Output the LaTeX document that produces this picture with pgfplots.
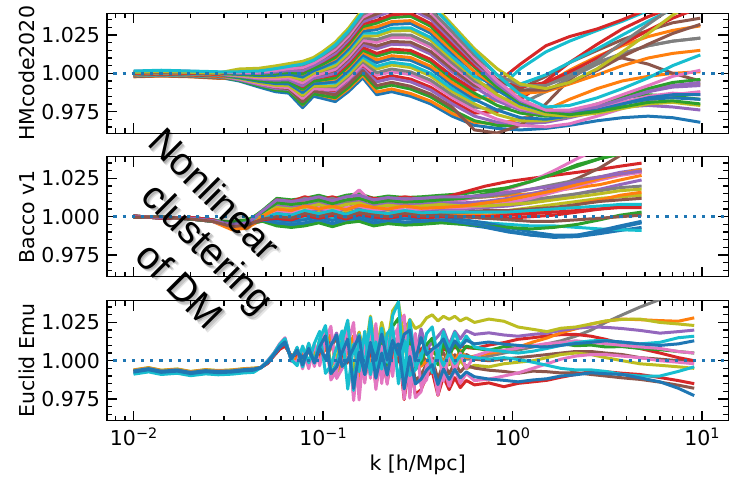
\documentclass[border=0pt]{standalone}
\usepackage{fontspec}
\setmainfont{DejaVu Sans}
\newfontfamily\annfont{Liberation Sans}
\usepackage{pgfplots}
\usepackage{pgfplotstable}
\pgfplotsset{compat=1.18}
\definecolor{c0}{HTML}{1F77B4}
\definecolor{c1}{HTML}{FF7F0E}
\definecolor{c2}{HTML}{2CA02C}
\definecolor{c3}{HTML}{D62728}
\definecolor{c4}{HTML}{9467BD}
\definecolor{c5}{HTML}{8C564B}
\definecolor{c6}{HTML}{E377C2}
\definecolor{c7}{HTML}{7F7F7F}
\definecolor{c8}{HTML}{BCBD22}
\definecolor{c9}{HTML}{17BECF}
\pgfplotscreateplotcyclelist{tab}{%
c0,line width=3pt\\c1,line width=3pt\\c2,line width=3pt\\c3,line width=3pt\\c4,line width=3pt\\%
c5,line width=3pt\\c6,line width=3pt\\c7,line width=3pt\\c8,line width=3pt\\c9,line width=3pt\\}
\newcommand\tp[1]{10\raisebox{7.3pt}{\fontsize{14.4}{15}\selectfont#1}}

% ---------------- HMcode2020 (one row per curve) ----------------
\pgfplotstableread{
name 0.010 0.014 0.020 0.028 0.036 0.046 0.056 0.066 0.078 0.089 0.100 0.116 0.136 0.162 0.192 0.230 0.290 0.370 0.480 0.630 0.830 1.100 1.500 2.000 2.800 3.800 5.200 7.000 9.800
l1 0.9985 0.9990 0.9985 0.9975 0.9950 0.9910 0.9880 0.9870 0.9775 0.9850 0.9835 0.9815 0.9880 0.9970 0.9860 0.9880 0.9850 0.9800 0.9720 0.966 0.964 0.963 0.964 0.966 0.969 0.971 0.972 0.971 0.968
l2 0.9977 0.9982 0.9977 0.9967 0.9968 0.9928 0.9898 0.9888 0.9793 0.9868 0.9853 0.9833 0.9898 0.9988 0.9878 0.9898 0.9868 0.9818 0.9738 0.968 0.967 0.970 0.976 0.983 0.990 0.995 0.998 1.000 1.001
l3 0.9987 0.9992 0.9987 0.9977 0.9954 0.9917 0.9891 0.9882 0.9795 0.9866 0.9855 0.9841 0.9908 1.0000 0.9902 0.9923 0.9897 0.9846 0.9761 0.969 0.966 0.966 0.969 0.974 0.980 0.984 0.986 0.985 0.983
l4 0.9981 0.9986 0.9981 0.9972 0.9976 0.9943 0.9919 0.9913 0.9833 0.9901 0.9894 0.9885 0.9953 1.0048 0.9962 0.9985 0.9962 0.9909 0.9819 0.974 0.975 0.983 0.995 1.007 1.019 1.029 1.037 1.043 1.047
l5 0.9989 0.9994 0.9989 0.9980 0.9958 0.9925 0.9901 0.9895 0.9815 0.9883 0.9876 0.9867 0.9935 1.0030 0.9944 0.9967 0.9944 0.9891 0.9801 0.972 0.968 0.967 0.968 0.971 0.975 0.978 0.979 0.978 0.976
l6 0.9979 0.9984 0.9979 0.9969 0.9972 0.9935 0.9909 0.9900 0.9813 0.9884 0.9873 0.9859 0.9926 1.0018 0.9920 0.9941 0.9915 0.9864 0.9779 0.963 0.961 0.966 0.980 0.996 1.008 1.010 1.006 1.000 0.995
l7 0.9991 0.9996 0.9991 0.9982 0.9963 0.9932 0.9912 0.9907 0.9835 0.9899 0.9896 0.9893 0.9963 1.0060 0.9986 1.0010 0.9991 0.9937 0.9842 0.976 0.970 0.966 0.965 0.967 0.972 0.977 0.982 0.986 0.988
l8 0.9983 0.9988 0.9983 0.9974 0.9981 0.9950 0.9930 0.9925 0.9853 0.9917 0.9914 0.9911 0.9981 1.0078 1.0004 1.0028 1.0009 0.9955 0.9860 0.978 0.976 0.980 0.988 0.997 1.006 1.013 1.018 1.021 1.023
l9 0.9993 0.9998 0.9993 0.9985 0.9967 0.9939 0.9922 0.9919 0.9855 0.9916 0.9916 0.9919 0.9991 1.0090 1.0028 1.0054 1.0038 0.9982 0.9882 0.980 0.973 0.969 0.969 0.972 0.978 0.984 0.989 0.992 0.993
l10 0.9985 0.9990 0.9985 0.9977 0.9985 0.9957 0.9940 0.9937 0.9873 0.9934 0.9934 0.9937 1.0009 1.0108 1.0046 1.0072 1.0056 1.0000 0.9900 0.982 0.989 1.003 1.014 1.021 1.028 1.034 1.041 1.047 1.052
l11 0.9996 1.0001 0.9996 0.9987 0.9971 0.9947 0.9933 0.9931 0.9875 0.9932 0.9937 0.9945 1.0018 1.0121 1.0070 1.0097 1.0085 1.0028 0.9923 0.983 0.976 0.971 0.970 0.972 0.976 0.980 0.983 0.984 0.983
l12 0.9988 0.9993 0.9988 0.9979 0.9989 0.9965 0.9951 0.9949 0.9893 0.9950 0.9955 0.9963 1.0036 1.0139 1.0088 1.0115 1.0103 1.0046 0.9941 0.985 0.982 0.985 0.993 1.002 1.011 1.018 1.024 1.028 1.031
l13 0.9998 1.0003 0.9998 0.9990 0.9975 0.9954 0.9943 0.9944 0.9895 0.9949 0.9957 0.9970 1.0046 1.0151 1.0112 1.0140 1.0131 1.0073 0.9964 0.987 0.979 0.974 0.972 0.974 0.979 0.985 0.990 0.994 0.996
l14 0.9990 0.9995 0.9990 0.9982 0.9993 0.9972 0.9961 0.9962 0.9913 0.9967 0.9975 0.9988 1.0064 1.0169 1.0130 1.0158 1.0149 1.0091 0.9982 0.989 0.994 1.006 1.018 1.024 1.029 1.035 1.042 1.050 1.058
l15 1.0000 1.0005 1.0000 0.9993 0.9980 0.9963 0.9955 0.9958 0.9918 0.9968 0.9980 1.0000 1.0078 1.0185 1.0160 1.0190 1.0185 1.0125 1.0010 0.991 0.982 0.976 0.973 0.974 0.978 0.983 0.988 0.991 0.992
l16 0.9992 0.9997 0.9992 0.9985 0.9998 0.9981 0.9973 0.9976 0.9936 0.9986 0.9998 1.0018 1.0096 1.0203 1.0178 1.0208 1.0203 1.0143 1.0028 0.992 0.988 0.990 0.998 1.007 1.015 1.022 1.028 1.033 1.036
l17 1.0002 1.0007 1.0002 0.9995 0.9984 0.9970 0.9966 0.9970 0.9937 0.9984 1.0000 1.0026 1.0105 1.0215 1.0202 1.0233 1.0232 1.0171 1.0051 0.994 0.984 0.977 0.974 0.974 0.977 0.981 0.985 0.987 0.986
l18 0.9994 0.9999 0.9994 0.9987 1.0002 0.9988 0.9984 0.9988 0.9955 1.0002 1.0018 1.0044 1.0123 1.0233 1.0220 1.0251 1.0250 1.0189 1.0069 0.995 0.989 0.988 0.993 1.000 1.007 1.013 1.018 1.021 1.023
l19 1.0004 1.0009 1.0004 0.9997 0.9988 0.9977 0.9976 0.9982 0.9957 1.0000 1.0021 1.0052 1.0133 1.0245 1.0244 1.0277 1.0279 1.0216 1.0091 0.997 0.986 0.978 0.973 0.972 0.974 0.977 0.980 0.981 0.979
l20 0.9996 1.0001 0.9996 0.9989 1.0006 0.9995 0.9994 1.0000 0.9975 1.0018 1.0039 1.0070 1.0151 1.0263 1.0262 1.0295 1.0297 1.0234 1.0109 0.998 0.992 0.993 0.999 1.007 1.016 1.025 1.034 1.042 1.049
l21 1.0006 1.0011 1.0006 1.0000 0.9993 0.9985 0.9987 0.9994 0.9977 1.0017 1.0041 1.0078 1.0160 1.0275 1.0286 1.0320 1.0326 1.0262 1.0132 1.001 0.989 0.980 0.975 0.974 0.976 0.980 0.984 0.986 0.986
l22 0.9998 1.0003 0.9998 0.9992 1.0011 1.0003 1.0005 1.0012 0.9995 1.0035 1.0059 1.0096 1.0178 1.0293 1.0304 1.0338 1.0344 1.0280 1.0150 1.001 0.991 0.987 0.988 0.993 0.999 1.005 1.010 1.013 1.015
l23 1.0008 1.0013 1.0008 1.0002 0.9997 0.9992 0.9997 1.0007 0.9997 1.0033 1.0061 1.0104 1.0188 1.0305 1.0328 1.0364 1.0373 1.0307 1.0172 1.004 0.991 0.981 0.975 0.973 0.975 0.978 0.981 0.982 0.980
l24 1.0000 1.0005 1.0000 0.9994 1.0015 1.0010 1.0015 1.0025 1.0015 1.0051 1.0079 1.0122 1.0206 1.0323 1.0346 1.0382 1.0391 1.0325 1.0190 1.005 0.995 0.991 0.994 1.001 1.010 1.019 1.028 1.036 1.043
l25 1.0011 1.0016 1.0011 1.0005 1.0001 0.9999 1.0008 1.0019 1.0017 1.0050 1.0082 1.0130 1.0216 1.0336 1.0370 1.0407 1.0420 1.0353 1.0213 1.007 0.993 0.982 0.976 0.975 0.978 0.983 0.988 0.992 0.994
l26 1.0003 1.0008 1.0003 0.9997 1.0019 1.0017 1.0026 1.0037 1.0035 1.0068 1.0100 1.0148 1.0234 1.0354 1.0388 1.0425 1.0438 1.0371 1.0231 1.008 0.996 0.989 0.989 0.994 1.002 1.011 1.019 1.026 1.032
l27 1.0013 1.0018 1.0013 1.0007 1.0005 1.0007 1.0018 1.0031 1.0037 1.0066 1.0102 1.0155 1.0243 1.0366 1.0412 1.0450 1.0466 1.0398 1.0254 1.010 0.995 0.983 0.976 0.976 0.980 0.986 0.992 0.998 1.002
l28 1.0005 1.0010 1.0005 0.9999 1.0023 1.0025 1.0036 1.0049 1.0055 1.0084 1.0120 1.0173 1.0261 1.0384 1.0430 1.0468 1.0484 1.0416 1.0272 1.012 0.999 0.992 0.992 0.998 1.008 1.020 1.032 1.043 1.052
l29 1.0007 1.0012 1.0007 1.0002 1.0028 1.0033 1.0048 1.0063 1.0078 1.0103 1.0143 1.0203 1.0293 1.0418 1.0478 1.0518 1.0538 1.0468 1.0318 1.016 1.003 0.993 0.990 0.994 1.003 1.014 1.026 1.038 1.049
l30 1.0015 1.0020 1.0015 1.0010 1.0010 1.0015 1.0030 1.0045 1.0060 1.0085 1.0125 1.0185 1.0275 1.0400 1.0460 1.0500 1.0520 1.0450 1.0300 1.014 0.999 0.986 0.978 0.979 0.984 0.990 0.997 1.005 1.012
}\rawA
\pgfplotstabletranspose[colnames from=name,input colnames to=k]{\tabA}{\rawA}

% ---------------- Bacco v1 ----------------
\pgfplotstableread{
name 0.010 0.014 0.020 0.026 0.033 0.040 0.048 0.057 0.068 0.080 0.095 0.112 0.132 0.155 0.185 0.220 0.270 0.330 0.420 0.550 0.720 0.950 1.250 1.650 2.200 2.900 3.700 4.800
l1 1.0000 0.9995 0.9990 0.9975 0.9935 0.9945 0.9974 0.9950 0.9940 0.9950 0.9970 0.9945 0.9970 0.9980 0.9950 0.9965 0.9955 0.9960 0.9970 0.9950 0.9930 0.9900 0.9880 0.9865 0.9870 0.9890 0.9910 0.9930
l2 0.9995 1.0000 0.9985 0.9970 0.9915 0.9925 1.0020 1.0090 1.0080 1.0110 1.0090 1.0110 1.0085 1.0115 1.0100 1.0090 1.0110 1.0095 1.0100 1.012 1.013 1.014 1.015 1.017 1.019 1.021 1.024 1.027
l3 1.0005 0.9990 0.9995 0.9980 0.9960 0.9970 1.0042 1.0120 1.0110 1.0120 1.0140 1.0115 1.0140 1.0150 1.0120 1.0135 1.0125 1.0130 1.0140 1.015 1.017 1.019 1.023 1.028 1.034 1.038 1.041 1.043
l4 1.0000 0.9995 0.9990 0.9975 0.9950 0.9960 1.0028 1.0110 1.0100 1.0130 1.0110 1.0130 1.0105 1.0135 1.0120 1.0110 1.0130 1.0115 1.0120 1.016 1.020 1.023 1.025 1.027 1.029 1.031 1.033 1.035
l5 0.9995 1.0000 0.9985 0.9970 0.9940 0.9950 1.0006 1.0030 1.0020 1.0030 1.0050 1.0025 1.0050 1.0060 1.0030 1.0045 1.0035 1.0040 1.0050 1.005 1.006 1.007 1.009 1.012 1.015 1.018 1.021 1.024
l6 1.0005 0.9990 0.9995 0.9980 0.9950 0.9960 1.0008 1.0060 1.0050 1.0080 1.0060 1.0080 1.0055 1.0085 1.0070 1.0060 1.0080 1.0065 1.0070 1.008 1.009 1.011 1.014 1.019 1.025 1.032 1.040 1.048
l7 1.0000 0.9995 0.9990 0.9975 0.9925 0.9935 1.0026 1.0080 1.0070 1.0080 1.0100 1.0075 1.0100 1.0175 1.0080 1.0095 1.0085 1.0090 1.0100 1.011 1.014 1.018 1.023 1.030 1.038 1.045 1.052 1.058
l8 0.9995 1.0000 0.9985 0.9970 0.9935 0.9945 1.0004 1.0050 1.0040 1.0070 1.0050 1.0070 1.0045 1.0075 1.0060 1.0050 1.0070 1.0055 1.0060 1.007 1.008 1.009 1.011 1.013 1.015 1.017 1.019 1.020
l9 1.0005 0.9990 0.9995 0.9980 0.9950 0.9960 0.9998 1.0010 1.0000 1.0010 1.0030 1.0005 1.0030 1.0040 1.0010 1.0025 1.0015 1.0020 1.0030 1.002 1.003 1.004 1.006 1.008 1.010 1.012 1.013 1.014
l10 1.0000 0.9995 0.9990 0.9975 0.9960 0.9970 0.9972 0.9970 0.9960 0.9990 0.9970 0.9990 0.9965 0.9995 0.9980 0.9970 0.9990 0.9975 0.9980 0.997 0.996 0.995 0.994 0.994 0.993 0.992 0.9915 0.991
l11 0.9995 1.0000 0.9985 0.9970 0.9940 0.9950 0.9986 0.9980 0.9970 0.9980 1.0000 0.9975 1.0000 1.0010 0.9980 0.9995 0.9985 0.9990 1.0000 0.998 0.996 0.993 0.990 0.988 0.988 0.990 0.993 0.996
l12 1.0005 0.9990 0.9995 0.9980 0.9920 0.9930 0.9984 1.0000 0.9990 1.0020 1.0000 1.0020 0.9995 1.0025 1.0010 1.0000 1.0020 1.0005 1.0010 1.001 1.001 1.002 1.003 1.005 1.008 1.011 1.014 1.016
l13 1.0000 0.9995 0.9990 0.9975 0.9945 0.9955 0.9970 0.9940 0.9930 0.9940 0.9960 0.9935 0.9960 0.9970 0.9940 0.9955 0.9945 0.9950 0.9960 0.995 0.994 0.993 0.992 0.993 0.995 0.998 1.001 1.003
l14 0.9995 1.0000 0.9985 0.9970 0.9955 0.9965 0.9980 0.9990 0.9980 1.0010 0.9990 1.0010 0.9985 1.0015 1.0000 0.9990 1.0010 0.9995 1.0000 1.000 0.999 0.999 1.000 1.001 1.003 1.005 1.007 1.008
l15 1.0005 0.9990 0.9995 0.9980 0.9935 0.9945 1.0022 1.0070 1.0060 1.0070 1.0090 1.0065 1.0090 1.0100 1.0070 1.0085 1.0075 1.0080 1.0090 1.009 1.010 1.012 1.015 1.018 1.022 1.026 1.029 1.031
l16 1.0000 0.9995 0.9990 0.9975 0.9950 0.9960 0.9992 1.0020 1.0010 1.0040 1.0020 1.0040 1.0015 1.0045 1.0030 1.0020 1.0040 1.0025 1.0030 1.003 1.004 1.004 1.005 1.006 1.008 1.010 1.011 1.012
l17 0.9995 1.0000 0.9985 0.9970 0.9930 0.9940 1.0010 1.0040 1.0030 1.0040 1.0060 1.0035 1.0060 1.0070 1.0040 1.0055 1.0045 1.0050 1.0060 1.006 1.007 1.009 1.012 1.016 1.020 1.024 1.027 1.029
l18 1.0005 0.9990 0.9995 0.9980 0.9940 0.9950 1.0024 1.0100 1.0090 1.0120 1.0100 1.0120 1.0095 1.0125 1.0110 1.0100 1.0120 1.0105 1.0110 1.012 1.013 1.015 1.018 1.021 1.024 1.026 1.028 1.030
l19 1.0000 0.9995 0.9990 0.9975 0.9960 0.9970 1.0018 1.0060 1.0050 1.0060 1.0080 1.0055 1.0080 1.0090 1.0060 1.0075 1.0065 1.0070 1.0080 1.007 1.007 1.008 1.009 1.011 1.013 1.015 1.017 1.018
l20 0.9995 1.0000 0.9985 0.9970 0.9965 0.9975 0.9992 1.0020 1.0010 1.0040 1.0020 1.0040 1.0015 1.0045 1.0030 1.0020 1.0040 1.0025 1.0030 1.003 1.003 1.003 1.004 1.005 1.006 1.007 1.008 1.008
l21 1.0005 0.9990 0.9995 0.9980 0.9950 0.9960 0.9978 0.9960 0.9950 0.9960 0.9980 0.9955 0.9980 0.9990 0.9960 0.9975 0.9965 0.9970 0.9980 0.996 0.994 0.991 0.988 0.987 0.988 0.991 0.994 0.997
l22 1.0000 0.9995 0.9990 0.9975 0.9920 0.9930 1.0004 1.0050 1.0040 1.0070 1.0050 1.0070 1.0045 1.0075 1.0060 1.0050 1.0070 1.0055 1.0060 1.007 1.009 1.011 1.014 1.017 1.021 1.025 1.028 1.031
l23 0.9995 1.0000 0.9985 0.9970 0.9970 0.9980 1.0030 1.0090 1.0080 1.0090 1.0110 1.0085 1.0110 1.0120 1.0090 1.0105 1.0095 1.0100 1.0110 1.012 1.015 1.019 1.023 1.028 1.033 1.038 1.041 1.044
l24 1.0005 0.9990 0.9995 0.9980 0.9940 0.9950 0.9980 0.9990 0.9980 1.0010 0.9990 1.0010 0.9985 1.0015 1.0000 0.9990 1.0010 0.9995 1.0000 1.000 1.000 1.001 1.002 1.003 1.004 1.005 1.006 1.006
l25 1.0000 0.9995 0.9990 0.9975 0.9950 0.9960 1.0038 1.0110 1.0100 1.0110 1.0130 1.0105 1.0130 1.0140 1.0110 1.0125 1.0115 1.0120 1.0130 1.013 1.014 1.016 1.018 1.020 1.023 1.026 1.028 1.030
l26 0.9995 1.0000 0.9985 0.9970 0.9935 0.9945 0.9984 1.0000 0.9990 1.0020 1.0000 1.0020 0.9995 1.0025 1.0010 1.0000 1.0020 1.0005 1.0010 1.000 0.999 0.998 0.997 0.997 0.998 0.999 1.000 1.001
}\rawB
\pgfplotstabletranspose[colnames from=name,input colnames to=k]{\tabB}{\rawB}

% ---------------- Euclid Emu ----------------
\pgfplotstableread{
name 0.010 0.012 0.014 0.017 0.020 0.024 0.028 0.033 0.038 0.043 0.047 0.051 0.055 0.059 0.063 0.068 0.073 0.078 0.084 0.090 0.096 0.103 0.110 0.118 0.126 0.135 0.145 0.155 0.166 0.178 0.190 0.204 0.218 0.233 0.250 0.268 0.287 0.307 0.329 0.352 0.377 0.404 0.432 0.463 0.496 0.530 0.570 0.630 0.750 0.900 1.070 1.280 1.520 1.800 2.150 2.600 3.100 3.800 4.700 6.000 7.500 9.100
l1 0.9933 0.9948 0.9931 0.9939 0.9923 0.9935 0.9929 0.9933 0.9941 0.9945 0.9955 0.9991 1.0041 1.0092 1.0123 1.0013 1.0070 0.9972 1.0081 0.9987 1.0092 1.0162 0.9917 0.9960 1.0054 1.0140 0.9819 1.0056 0.9910 1.0120 0.9886 1.0050 0.9906 1.0082 1.0110 0.9816 1.0028 0.9848 0.9879 0.9938 0.9974 0.9844 0.9946 0.9877 0.9943 0.9888 0.9927 0.9895 0.9880 0.9872 0.9862 0.9874 0.9882 0.9900 0.9908 0.9921 0.9915 0.9910 0.9888 0.9862 0.9820 0.9772
l2 0.9938 0.9953 0.9936 0.9944 0.9928 0.9940 0.9934 0.9938 0.9946 0.9950 0.9955 0.9990 1.0040 1.0090 1.0120 1.0015 1.0015 1.0070 0.9980 1.0085 1.0000 1.0100 1.0171 0.9942 0.9987 1.0077 1.0163 0.9868 1.0093 0.9964 1.0164 0.9955 1.0110 0.9985 1.0151 1.0182 0.9922 1.0118 0.9963 0.9999 1.0049 1.0089 0.9974 1.0070 0.9995 1.0070 1.0020 1.0030 1.0048 1.0062 1.0088 1.0122 1.0148 1.0182 1.0208 1.0240 1.0258 1.0272 1.0268 1.0262 1.0258 1.0280
l3 0.9927 0.9942 0.9925 0.9933 0.9917 0.9929 0.9923 0.9927 0.9935 0.9939 0.9955 0.9995 1.0045 1.0100 1.0135 1.0005 1.0081 0.9967 1.0102 0.9988 1.0124 1.0205 0.9921 0.9977 1.0103 1.0220 0.9822 1.0133 0.9945 1.0227 0.9929 1.0161 0.9973 1.0225 1.0277 0.9879 1.0191 0.9943 0.9984 1.0106 1.0147 0.9973 1.0119 1.0025 1.0115 1.0040 1.0095 1.0082 1.0068 1.0092 1.0078 1.0102 1.0088 1.0112 1.0098 1.0102 1.0090 1.0092 1.0080 1.0072 1.0060 1.0050
l4 0.9930 0.9945 0.9928 0.9936 0.9920 0.9932 0.9926 0.9930 0.9938 0.9942 0.9955 0.9993 1.0043 1.0096 1.0129 1.0009 1.0072 0.9964 1.0083 0.9977 1.0094 1.0166 0.9898 0.9944 1.0049 1.0145 0.9780 1.0049 0.9875 1.0114 0.9841 1.0032 0.9859 1.0066 1.0099 0.9746 1.0001 0.9780 0.9811 0.9896 0.9931 0.9774 0.9896 0.9811 0.9889 0.9824 0.9871 0.9842 0.9855 0.9830 0.9852 0.9862 0.9872 0.9892 0.9910 0.9930 0.9928 0.9918 0.9910 0.9890 0.9870 0.9850
l5 0.9935 0.9950 0.9933 0.9941 0.9925 0.9937 0.9931 0.9935 0.9943 0.9947 0.9955 0.9989 1.0039 1.0088 1.0117 1.0017 1.0060 1.0017 1.0071 0.9989 1.0090 1.0014 1.0110 1.0181 0.9966 1.0013 1.0100 1.0185 0.9917 1.0130 1.0018 1.0209 1.0024 1.0171 1.0066 1.0221 1.0254 1.0029 1.0208 1.0079 1.0118 1.0160 1.0204 1.0105 1.0193 1.0143 1.0197 1.0172 1.0182 1.0168 1.0160 1.0172 1.0180 1.0198 1.0212 1.0220 1.0218 1.0210 1.0198 1.0180 1.0190 1.0200
l6 0.9924 0.9939 0.9922 0.9930 0.9914 0.9926 0.9920 0.9924 0.9932 0.9936 0.9955 0.9992 1.0042 1.0094 1.0126 1.0011 1.0072 0.9971 1.0086 0.9988 1.0100 1.0172 0.9918 0.9965 1.0066 1.0160 0.9820 1.0076 0.9918 1.0146 0.9896 1.0077 0.9922 1.0117 1.0151 0.9831 1.0068 0.9871 0.9905 0.9980 1.0018 0.9876 0.9990 0.9914 0.9986 0.9926 0.9969 0.9952 0.9938 0.9930 0.9918 0.9932 0.9928 0.9920 0.9922 0.9910 0.9900 0.9888 0.9878 0.9860 0.9840 0.9820
l7 0.9920 0.9935 0.9918 0.9926 0.9910 0.9922 0.9916 0.9920 0.9928 0.9932 0.9955 1.0000 1.0050 1.0110 1.0150 0.9995 0.9995 1.0089 0.9948 1.0113 0.9967 1.0136 1.0225 0.9884 0.9948 1.0107 1.0250 0.9743 1.0137 0.9885 1.0243 0.9851 1.0154 0.9897 1.0230 1.0298 0.9756 1.0179 0.9832 0.9876 1.0064 1.0103 0.9867 1.0061 0.9930 1.0050 0.9950 1.0030 1.0062 1.0068 1.0082 1.0098 1.0112 1.0118 1.0130 1.0120 1.0112 1.0100 1.0090 1.0080 1.0060 1.0050
l8 0.9932 0.9947 0.9930 0.9938 0.9922 0.9934 0.9928 0.9932 0.9940 0.9944 0.9955 0.9983 1.0033 1.0076 1.0099 1.0029 1.0056 1.0000 1.0063 1.0019 1.0070 1.0126 0.9972 1.0002 1.0043 1.0085 0.9936 1.0041 0.9995 1.0082 0.9997 1.0046 1.0011 1.0056 1.0057 0.9992 1.0025 1.0002 1.0029 0.9980 1.0019 0.9988 1.0012 1.0001 1.0019 1.0004 1.0011 1.0010 1.0030 1.0050 1.0070 1.0090 1.0110 1.0130 1.0160 1.0200 1.0250 1.0300 1.0350 1.0400 1.0450 1.0500
l9 0.9934 0.9949 0.9932 0.9940 0.9924 0.9936 0.9930 0.9934 0.9942 0.9946 0.9955 0.9993 1.0043 1.0096 1.0129 1.0009 1.0081 0.9981 1.0108 1.0010 1.0136 1.0217 0.9961 1.0019 1.0137 1.0250 0.9902 1.0187 1.0031 1.0291 1.0039 1.0251 1.0099 1.0327 1.0381 1.0140 1.0270 1.0210 1.0230 1.0280 1.0300 1.0260 1.0290 1.0270 1.0290 1.0260 1.0280 1.0250 1.0272 1.0258 1.0220 1.0205 1.0190 1.0212 1.0220 1.0240 1.0260 1.0270 1.0272 1.0250 1.0240 1.0230
l10 0.9912 0.9927 0.9910 0.9918 0.9902 0.9914 0.9908 0.9912 0.9920 0.9924 0.9955 0.9998 1.0048 1.0106 1.0144 0.9999 1.0088 0.9960 1.0115 0.9984 1.0142 1.0230 0.9915 0.9979 1.0128 1.0265 0.9806 1.0171 0.9949 1.0282 0.9933 1.0213 0.9989 1.0295 1.0385 0.9883 1.0267 0.9965 1.0012 1.0178 1.0221 1.0013 1.0190 1.0076 1.0184 1.0094 1.0161 1.0090 1.0072 1.0060 1.0050 1.0062 1.0080 1.0100 1.0118 1.0130 1.0132 1.0120 1.0110 1.0120 1.0150 1.0160
l11 0.9926 0.9941 0.9924 0.9932 0.9916 0.9928 0.9922 0.9926 0.9934 0.9938 0.9955 0.9988 1.0038 1.0086 1.0114 1.0019 1.0060 1.0019 1.0068 0.9989 1.0084 1.0012 1.0100 1.0168 0.9962 1.0005 1.0084 1.0160 0.9910 1.0104 1.0002 1.0174 1.0004 1.0133 1.0038 1.0173 1.0199 0.9999 1.0152 1.0039 1.0075 1.0100 1.0142 1.0054 1.0130 1.0086 1.0134 1.0110 1.0122 1.0108 1.0100 1.0092 1.0090 1.0100 1.0112 1.0120 1.0130 1.0122 1.0110 1.0100 1.0110 1.0130
l12 0.9936 0.9951 0.9934 0.9942 0.9926 0.9938 0.9932 0.9936 0.9944 0.9948 0.9955 0.9982 1.0032 1.0074 1.0096 1.0031 1.0031 1.0055 1.0006 1.0065 1.0029 1.0074 1.0129 0.9989 1.0020 1.0056 1.0095 0.9970 1.0062 1.0030 1.0105 1.0042 1.0080 1.0062 1.0094 1.0095 1.0062 1.0076 1.0076 1.0106 1.0046 1.0088 1.0071 1.0087 1.0084 1.0096 1.0086 1.0080 1.0102 1.0118 1.0140 1.0150 1.0162 1.0170 1.0172 1.0160 1.0140 1.0110 1.0080 1.0050 1.0020 1.0000
l13 0.9917 0.9932 0.9915 0.9923 0.9907 0.9919 0.9913 0.9917 0.9925 0.9929 0.9955 0.9994 1.0044 1.0098 1.0132 1.0007 0.9967 1.0096 0.9986 1.0114 1.0192 0.9917 0.9969 1.0087 1.0195 0.9815 1.0107 0.9929 1.0192 0.9909 1.0123 0.9945 1.0177 1.0222 0.9849 1.0135 0.9903 0.9941 1.0046 1.0085 0.9922 1.0056 0.9968 1.0052 0.9982 1.0033 1.0030 1.0020 1.0010 1.0020 1.0008 0.9990 0.9970 0.9950 0.9940 0.9940 0.9930 0.9910 0.9900 0.9900 0.9930 0.9960
l14 0.9940 0.9955 0.9938 0.9946 0.9930 0.9942 0.9936 0.9940 0.9948 0.9952 0.9955 0.9991 1.0041 1.0092 1.0123 1.0013 1.0013 1.0071 0.9975 1.0084 0.9992 1.0098 1.0169 0.9926 0.9971 1.0066 1.0155 0.9837 1.0076 0.9932 1.0145 0.9914 1.0081 0.9940 1.0119 1.0150 0.9859 1.0074 0.9897 0.9930 0.9992 1.0030 0.9901 1.0005 0.9937 1.0003 0.9948 0.9970 0.9960 0.9980 0.9990 1.0000 1.0020 1.0040 1.0050 1.0040 1.0020 1.0000 0.9980 0.9970 0.9960 0.9950
l15 0.9922 0.9937 0.9920 0.9928 0.9912 0.9924 0.9918 0.9922 0.9930 0.9934 0.9955 0.9999 1.0049 1.0108 1.0147 0.9997 1.0085 0.9947 1.0104 0.9962 1.0122 1.0207 0.9874 0.9933 1.0081 1.0215 0.9740 1.0098 0.9854 1.0191 0.9812 1.0095 0.9846 1.0157 1.0216 0.9750 1.0092 0.9759 0.9798 0.9968 1.0004 0.9777 0.9959 0.9833 0.9947 0.9852 0.9917 0.9870 0.9880 0.9900 0.9920 0.9950 0.9980 1.0010 1.0030 1.0040 1.0040 1.0030 1.0020 1.0000 0.9990 0.9980
l16 0.9931 0.9946 0.9929 0.9937 0.9921 0.9933 0.9927 0.9931 0.9939 0.9943 0.9955 0.9987 1.0037 1.0084 1.0111 1.0021 1.0050 1.0021 1.0064 0.9989 1.0075 1.0008 1.0087 1.0151 0.9953 0.9992 1.0061 1.0127 0.9895 1.0069 0.9974 1.0126 0.9969 1.0079 0.9992 1.0106 1.0123 0.9947 1.0073 0.9974 1.0006 1.0013 1.0053 0.9974 1.0039 1.0000 1.0041 1.0010 1.0000 1.0010 1.0020 1.0030 1.0040 1.0050 1.0060 1.0060 1.0050 1.0040 1.0020 1.0010 1.0000 1.0000
}\rawC
\pgfplotstabletranspose[colnames from=name,input colnames to=k]{\tabC}{\rawC}

\begin{document}
\fontsize{20.5}{24}\selectfont
\begin{tikzpicture}
\useasboundingbox (-107pt,-343.7pt) rectangle (624pt,133.3pt);
% ---------- panel 1 ----------
\begin{axis}[at={(0pt,0pt)}, anchor=south west,
    xmode=log, scale only axis, width=621.3pt, height=120pt,
    xmin=0.007238, xmax=13.77, ymin=0.9608, ymax=1.0392,
    xtick={0.01,0.1,1,10}, xticklabels={,,,},
    minor xtick={0.008,0.009,0.02,0.03,0.04,0.05,0.06,0.07,0.08,0.09,0.2,0.3,0.4,0.5,0.6,0.7,0.8,0.9,2,3,4,5,6,7,8,9},
    ytick={0.975,1.0,1.025}, yticklabels={0.975,1.000,1.025},
    minor ytick={0.965,0.97,0.98,0.985,0.99,0.995,1.005,1.01,1.015,1.02,1.03,1.035},
    tick align=inside, major tick length=10pt, minor tick length=5pt,
    every tick/.style={black, line width=1.3pt},
    axis line style={line width=1.3pt},
    ylabel={HMcode2020},
    ylabel style={at={(axis description cs:-0.1159,0.5)}, anchor=base, inner sep=0pt},
    cycle list name=tab, no markers]
\pgfplotsinvokeforeach{1,...,30}{\addplot+[line join=round] table[x=k,y=l#1]{\tabA};}
\addplot[c0, line width=3.2pt, dash pattern=on 3.2pt off 6pt, forget plot] coordinates {(0.007,1) (14,1)};
\end{axis}
% ---------- panel 2 ----------
\begin{axis}[at={(0pt,-143.4pt)}, anchor=south west,
    xmode=log, scale only axis, width=621.3pt, height=120pt,
    xmin=0.007238, xmax=13.77, ymin=0.9608, ymax=1.0392,
    xtick={0.01,0.1,1,10}, xticklabels={,,,},
    minor xtick={0.008,0.009,0.02,0.03,0.04,0.05,0.06,0.07,0.08,0.09,0.2,0.3,0.4,0.5,0.6,0.7,0.8,0.9,2,3,4,5,6,7,8,9},
    ytick={0.975,1.0,1.025}, yticklabels={0.975,1.000,1.025},
    minor ytick={0.965,0.97,0.98,0.985,0.99,0.995,1.005,1.01,1.015,1.02,1.03,1.035},
    tick align=inside, major tick length=10pt, minor tick length=5pt,
    every tick/.style={black, line width=1.3pt},
    axis line style={line width=1.3pt},
    ylabel={Bacco v1},
    ylabel style={at={(axis description cs:-0.1159,0.5)}, anchor=base, inner sep=0pt},
    cycle list name=tab, no markers]
\pgfplotsinvokeforeach{1,...,26}{\addplot+[line join=round] table[x=k,y=l#1]{\tabB};}
\addplot[c0, line width=3.2pt, dash pattern=on 3.2pt off 6pt, forget plot] coordinates {(0.007,1) (14,1)};
\end{axis}
% ---------- panel 3 ----------
\begin{axis}[at={(0pt,-287.4pt)}, anchor=south west,
    xmode=log, scale only axis, width=621.3pt, height=120pt,
    xmin=0.007238, xmax=13.77, ymin=0.9608, ymax=1.0392,
    xtick={0.01,0.1,1,10}, xticklabels={\tp{−2},\tp{−1},\tp{0},\tp{1}},
    minor xtick={0.008,0.009,0.02,0.03,0.04,0.05,0.06,0.07,0.08,0.09,0.2,0.3,0.4,0.5,0.6,0.7,0.8,0.9,2,3,4,5,6,7,8,9},
    ytick={0.975,1.0,1.025}, yticklabels={0.975,1.000,1.025},
    minor ytick={0.965,0.97,0.98,0.985,0.99,0.995,1.005,1.01,1.015,1.02,1.03,1.035},
    tick align=inside, major tick length=10pt, minor tick length=5pt,
    every tick/.style={black, line width=1.3pt},
    axis line style={line width=1.3pt},
    ylabel={Euclid Emu},
    ylabel style={at={(axis description cs:-0.1159,0.5)}, anchor=base, inner sep=0pt},
    xlabel={k [h/Mpc]},
    xlabel style={at={(axis description cs:0.5,0)}, anchor=base, yshift=-50pt},
    no markers]
\addplot[c7, line width=3pt, line join=round] table[x=k,y=l8]{\tabC};
\addplot[c5, line width=3pt, line join=round] table[x=k,y=l16]{\tabC};
\addplot[c3, line width=3pt, line join=round] table[x=k,y=l12]{\tabC};
\addplot[c8, line width=3pt, line join=round] table[x=k,y=l14]{\tabC};
\addplot[c5, line width=3pt, line join=round] table[x=k,y=l6]{\tabC};
\addplot[c1, line width=3pt, line join=round] table[x=k,y=l2]{\tabC};
\addplot[c4, line width=3pt, line join=round] table[x=k,y=l5]{\tabC};
\addplot[c8, line width=3pt, line join=round] table[x=k,y=l9]{\tabC};
\addplot[c3, line width=3pt, line join=round] table[x=k,y=l4]{\tabC};
\addplot[c2, line width=3pt, line join=round] table[x=k,y=l3]{\tabC};
\addplot[c6, line width=3pt, line join=round] table[x=k,y=l15]{\tabC};
\addplot[c6, line width=3pt, line join=round] table[x=k,y=l7]{\tabC};
\addplot[c9, line width=3pt, line join=round] table[x=k,y=l13]{\tabC};
\addplot[c9, line width=3pt, line join=round] table[x=k,y=l10]{\tabC};
\addplot[c0, line width=3pt, line join=round] table[x=k,y=l11]{\tabC};
\addplot[c0, line width=3pt, line join=round] table[x=k,y=l1]{\tabC};
\addplot[c0, line width=3.2pt, dash pattern=on 3.2pt off 6pt, forget plot] coordinates {(0.007,1) (14,1)};
\end{axis}
% ---------- annotation with soft shadow ----------
\begin{scope}[every node/.style={font=\annfont\fontsize{39}{44}\selectfont, rotate=-45, inner sep=0pt}]
\foreach \o/\op in {3.5/0.10, 2.3/0.13, 1.2/0.15}{
  \node[text=black, opacity=\op] at (108pt+\o pt,-60.7pt-\o pt) {Nonlinear};
  \node[text=black, opacity=\op] at (99pt+\o pt,-116.7pt-\o pt) {clustering};
  \node[text=black, opacity=\op] at (73pt+\o pt,-151.7pt-\o pt) {of DM};
}
\node[text=black] at (108pt,-60.7pt) {Nonlinear};
\node[text=black] at (99pt,-116.7pt) {clustering};
\node[text=black] at (73pt,-151.7pt) {of DM};
\end{scope}
\end{tikzpicture}
\end{document}
